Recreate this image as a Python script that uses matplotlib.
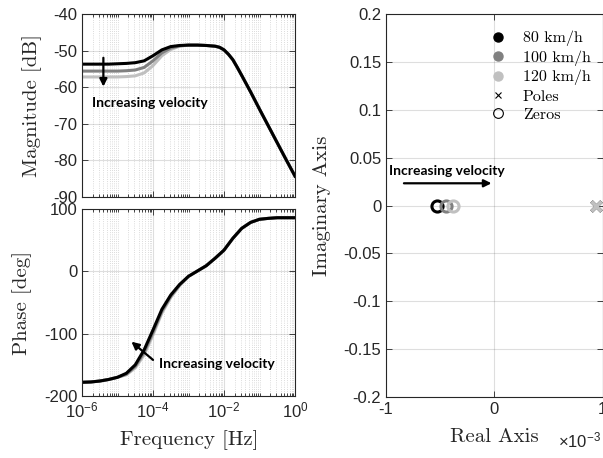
import matplotlib
matplotlib.use('Agg')
import matplotlib.pyplot as plt
import matplotlib.ticker as mticker
from matplotlib.lines import Line2D
import numpy as np

plt.rcParams['font.family'] = 'Liberation Sans'
plt.rcParams['axes.unicode_minus'] = False
plt.rcParams['mathtext.fontset'] = 'custom'
plt.rcParams['mathtext.rm'] = 'Liberation Sans'
plt.rcParams['mathtext.it'] = 'Liberation Sans:italic'
plt.rcParams['mathtext.bf'] = 'Liberation Sans:bold'

# magnitude data, read at quarter decades (eighths around the roll-off corner)
mag_exp = [-6, -5.75, -5.5, -5.25, -5, -4.75, -4.5, -4.25, -4, -3.75, -3.5, -3.25, -3,
           -2.75, -2.5, -2.25, -2.125, -2, -1.875, -1.75, -1.625, -1.5, -1.25, -1, -0.75,
           -0.5, -0.25, 0]
mag_80 = [-53.7, -53.7, -53.7, -53.7, -53.6, -53.5, -53.3, -52.8, -51.4, -49.8, -48.9, -48.6, -48.5,
          -48.5, -48.6, -48.8, -49.1, -49.8, -51.0, -52.5, -54.6, -56.8, -61.3, -66.0, -70.6,
          -75.2, -79.8, -84.3]
mag_100 = [-55.6, -55.6, -55.6, -55.6, -55.6, -55.5, -55.3, -54.6, -52.8, -50.6, -49.3, -48.7, -48.5,
           -48.5, -48.6, -48.8, -49.1, -49.8, -51.0, -52.5, -54.6, -56.8, -61.3, -66.0, -70.6,
           -75.2, -79.8, -84.3]
mag_120 = [-57.2, -57.2, -57.2, -57.2, -57.2, -57.1, -56.9, -56.1, -54.1, -51.4, -49.7, -48.8, -48.5,
           -48.5, -48.6, -48.8, -49.1, -49.8, -51.0, -52.5, -54.6, -56.8, -61.3, -66.0, -70.6,
           -75.2, -79.8, -84.3]

# phase data, read at quarter decades
phase_exp = [-6, -5.75, -5.5, -5.25, -5, -4.75, -4.5, -4.25, -4, -3.75, -3.5, -3.25, -3,
             -2.75, -2.5, -2.25, -2, -1.75, -1.5, -1.25, -1, -0.75, -0.5, -0.25, 0]
phase_80 = [-178, -177.5, -176, -173.5, -170, -163.5, -150, -126, -94, -61, -38, -21, -8,
            0.5, 9, 21, 34, 53, 69, 78.5, 83.5, 85, 86, 86, 86]
phase_100 = [-178, -177.5, -176, -173.5, -170, -165, -152.5, -130, -98, -64, -40, -22, -8,
             0.5, 9, 21, 34, 53, 69, 78.5, 83.5, 85, 86, 86, 86]
phase_120 = [-178, -177.5, -176, -173.5, -170, -166, -155, -134, -102, -67, -42, -23, -8,
             0.5, 9, 21, 34, 53, 69, 78.5, 83.5, 85, 86, 86, 86]

# pole/zero locations (real part in units of 1e-3)
zeros_re = [-0.53, -0.45, -0.38]
poles_re = [0.94, 0.94, 0.94]

speeds = ['80 km/h', '100 km/h', '120 km/h']
colors = ['#000000', '#808080', '#c0c0c0']
mags = [mag_80, mag_100, mag_120]
phases = [phase_80, phase_100, phase_120]
f_mag = 10.0 ** np.array(mag_exp)
f_phase = 10.0 ** np.array(phase_exp)

W, H = 603, 458
ink = '#262626'
serif = 'cmr10'
note_font = dict(family='Lato', weight='bold', size=10)


def box(x0, y0, x1, y1):
    return [x0 / W, 1 - y1 / H, (x1 - x0) / W, (y1 - y0) / H]


def style(ax):
    ax.tick_params(which='both', direction='in', top=True, right=True, colors=ink,
                   labelsize=12, width=0.6)
    ax.tick_params(which='major', length=4)
    ax.tick_params(which='minor', length=2)
    for s in ax.spines.values():
        s.set_color(ink)
        s.set_linewidth(0.8)
    ax.set_axisbelow(True)


def log_axis(ax):
    ax.set_xscale('log')
    ax.set_xlim(1e-6, 1)
    ax.xaxis.set_major_locator(mticker.FixedLocator([1e-6, 1e-4, 1e-2, 1]))
    ax.xaxis.set_minor_locator(mticker.LogLocator(base=10, subs=np.arange(1, 10), numticks=30))
    ax.xaxis.set_minor_formatter(mticker.NullFormatter())
    ax.grid(True, which='major', color=ink, alpha=0.15, lw=0.8)
    ax.grid(True, which='minor', axis='x', color=ink, alpha=0.22, lw=0.6, ls=':')


fig = plt.figure(figsize=(W / 100, H / 100), dpi=100)

ax_mag = fig.add_axes(box(82, 14, 295, 197))
ax_ph = fig.add_axes(box(82, 209, 295, 396))
ax_pz = fig.add_axes(box(386, 14, 602.5, 397))

for ax in (ax_mag, ax_ph, ax_pz):
    style(ax)

# magnitude
log_axis(ax_mag)
for m, c in zip(mags[::-1], colors[::-1]):
    ax_mag.plot(f_mag, m, color=c, lw=2.2)
ax_mag.set_ylim(-90, -40)
ax_mag.yaxis.set_major_locator(mticker.MultipleLocator(10))
ax_mag.yaxis.set_major_formatter(mticker.FormatStrFormatter('%g'))
ax_mag.xaxis.set_major_formatter(mticker.NullFormatter())
ax_mag.annotate('', xy=(4e-6, -60.6), xytext=(4e-6, -51.2),
                arrowprops=dict(arrowstyle='-|>', color='k', lw=1.6, mutation_scale=11))
ax_mag.text(1.9e-6, -64.3, 'Increasing velocity', va='center', ha='left', **note_font)

# phase
log_axis(ax_ph)
for p, c in zip(phases[::-1], colors[::-1]):
    ax_ph.plot(f_phase, p, color=c, lw=2.2)
ax_ph.set_ylim(-200, 100)
ax_ph.yaxis.set_major_locator(mticker.MultipleLocator(100))
ax_ph.yaxis.set_major_formatter(mticker.FormatStrFormatter('%g'))
ax_ph.xaxis.set_major_formatter(mticker.LogFormatterMathtext())
ax_ph.annotate('', xy=(2.15e-5, -110), xytext=(1.15e-4, -145),
               arrowprops=dict(arrowstyle='-|>', color='k', lw=1.6, mutation_scale=11))
ax_ph.text(1.5e-4, -148.7, 'Increasing velocity', va='center', ha='left', **note_font)

# pole-zero map
for i in range(3):
    ax_pz.plot(zeros_re[i], 0, 'o', mfc='none', mec=colors[i], ms=8, mew=2.2)
    ax_pz.plot(poles_re[i], 0, 'x', color=colors[i], ms=7, mew=2.5, clip_on=False)
ax_pz.set_xlim(-1, 1)
ax_pz.set_ylim(-0.2, 0.2)
ax_pz.xaxis.set_major_locator(mticker.MultipleLocator(1))
ax_pz.yaxis.set_major_locator(mticker.MultipleLocator(0.05))
ax_pz.xaxis.set_major_formatter(mticker.FormatStrFormatter('%g'))
ax_pz.yaxis.set_major_formatter(mticker.FuncFormatter(lambda v, _: '%g' % round(v, 3)))
ax_pz.grid(True, color=ink, alpha=0.15, lw=0.8)
ax_pz.annotate('', xy=(0.0, 0.0232), xytext=(-0.86, 0.0232),
               arrowprops=dict(arrowstyle='-|>', color='k', lw=1.6, mutation_scale=11))
ax_pz.text(-0.97, 0.0363, 'Increasing velocity', va='center', ha='left', **note_font)

handles = [Line2D([], [], ls='none', marker='o', color=c, ms=6.5) for c in colors]
handles.append(Line2D([], [], ls='none', marker='x', color='k', ms=5, mew=0.8))
handles.append(Line2D([], [], ls='none', marker='o', mfc='none', mec='k', ms=7, mew=0.8))
ax_pz.legend(handles, speeds + ['Poles', 'Zeros'], loc='upper left',
             bbox_to_anchor=((490 - 386) / 216.5, 1 - (31 - 14) / 383),
             frameon=False, borderpad=0, borderaxespad=0, handlelength=1.0,
             handletextpad=1.06, labelspacing=0.25, prop=dict(family=serif, size=11.5))

# axis labels
lab = dict(family=serif, size=15, color=ink, ha='center', va='center')
fig.text(32 / W, 1 - 105.5 / H, 'Magnitude [dB]', rotation=90, **lab)
fig.text(22 / W, 1 - 302.5 / H, 'Phase [deg]', rotation=90, **lab)
fig.text(322 / W, 1 - 205.5 / H, 'Imaginary Axis', rotation=90, **lab)
fig.text(189 / W, 1 - 440 / H, 'Frequency [Hz]', **lab)
fig.text(494 / W, 1 - 437 / H, 'Real Axis', **lab)
fig.text(558 / W, 1 - 440 / H, r'$\times\mathregular{10^{-3}}$', color=ink, size=12,
         ha='left', va='center')

fig.savefig('out.png', dpi=100)
